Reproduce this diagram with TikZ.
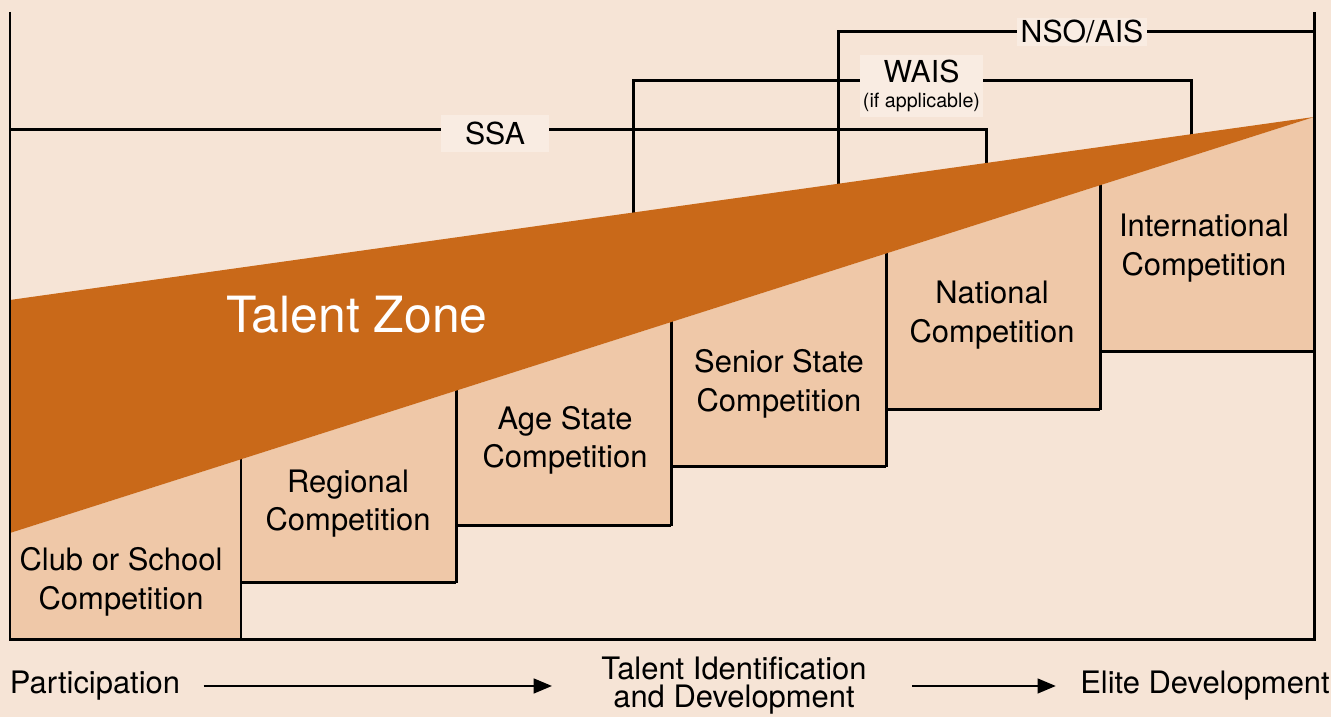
\documentclass[tikz,border=0pt]{standalone}
\usepackage{fontspec}
\setmainfont{TeX Gyre Heros}
\usetikzlibrary{arrows.meta}
\definecolor{paper}{RGB}{246,228,214}
\definecolor{stepfill}{RGB}{239,200,168}
\definecolor{zone}{RGB}{201,105,25}
\definecolor{tagfill}{RGB}{249,236,226}
\begin{document}
\begin{tikzpicture}[line width=0.85pt,
		level/.style={align=center, font=\fontsize{8.8}{11}\selectfont},
		body/.style={fill=tagfill, inner sep=0pt, font=\fontsize{8.6}{9}\selectfont},
		stage/.style={align=center, inner sep=0pt, font=\fontsize{8.8}{8}\selectfont},
		flow/.style={-{Triangle[length=5.2pt,width=4.2pt]}, line width=0.6pt}]
	\useasboundingbox (0,0) rectangle (13.31,7.17);
	\fill[paper] (0,0) rectangle (13.31,7.17);
	% staircase
	\fill[stepfill] (0.10,0.77)
		\foreach \x/\ya/\yb in {2.41/0.77/1.34, 4.56/1.34/1.91, 6.71/1.91/2.50, 8.86/2.50/3.07, 11.00/3.07/3.65}
			{ -- (\x,\ya) -- (\x,\yb) }
		-- (13.14,3.65) -- (13.14,6.00) -- (0.10,1.84) -- cycle;
	\foreach \x/\xn/\yp/\y/\top in {2.41/4.56/0.77/1.34/3.0, 4.56/6.71/1.34/1.91/3.6, 6.71/8.86/1.91/2.50/4.3, 8.86/11.00/2.50/3.07/5.0, 11.00/13.14/3.07/3.65/5.5}
		\draw (\x,\top) -- (\x,\yp) (\x,\y) -- (\xn,\y);
	% bodies
	\draw (0.10,5.87) -- (9.86,5.87) -- (9.86,5.4);
	\draw (6.33,4.9) -- (6.33,6.36) -- (11.91,6.36) -- (11.91,5.72);
	\draw (8.38,5.1) -- (8.38,6.85) -- (13.14,6.85);
	% talent zone
	\fill[zone] (0.10,4.17) -- (13.14,6.00) -- (0.10,1.84) -- cycle;
	\draw (0.10,7.05) -- (0.10,0.77) -- (13.14,0.77) -- (13.14,7.05);
	\node[level] (club) at (1.21,1.35) {Club or School\\Competition};
	\node[level] (regional) at (3.48,2.135) {Regional\\Competition};
	\node[level] (agestate) at (5.65,2.765) {Age State\\Competition};
	\node[level] (seniorstate) at (7.79,3.33) {Senior State\\Competition};
	\node[level] (national) at (9.92,4.02) {National\\Competition};
	\node[level] (international) at (12.04,4.69) {International\\Competition};
	\node[text=white, font=\fontsize{14.2}{16}\selectfont] (zonelabel) at (3.57,4.02) {Talent Zone};
	\node[body, minimum width=1.08cm, minimum height=0.37cm] (ssa) at (4.95,5.83) {SSA};
	\node[body, align=center, minimum width=1.23cm, minimum height=0.62cm] (wais) at (9.215,6.31) {WAIS\\[-2pt]{\fontsize{5.6}{6}\selectfont(if applicable)}};
	\node[body, minimum width=1.30cm, minimum height=0.28cm] (nsoais) at (10.82,6.85) {NSO/AIS};
	% pathway
	\node[stage] (participation) at (0.95,0.31) {Participation};
	\node[stage] (talentid) at (7.34,0.31) {Talent Identification\\and Development};
	\node[stage] (elite) at (12.05,0.31) {Elite Development};
	\draw[flow, shorten <=0.22cm, shorten >=0.48cm] (participation) -- (talentid);
	\draw[flow, shorten <=0.44cm, shorten >=0.23cm] (talentid) -- (elite);
\end{tikzpicture}
\end{document}
